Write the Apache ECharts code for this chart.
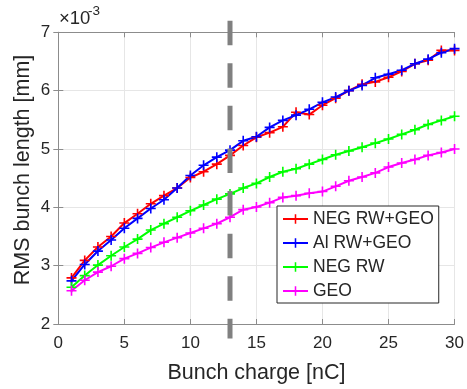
<!DOCTYPE html>
<html>
<head>
<meta charset="utf-8">
<script src="https://cdn.jsdelivr.net/npm/echarts@6/dist/echarts.min.js"></script>
<style>html,body{margin:0;padding:0;background:#fff;}#c{width:467px;height:389px;}</style>
</head>
<body>
<div id="c"></div>
<script>
var charge = [1,2,3,4,5,6,7,8,9,10,11,12,13,14,15,16,17,18,19,20,21,22,23,24,25,26,27,28,29,30];
var negRwGeo = [2.79,3.09,3.32,3.50,3.73,3.89,4.06,4.20,4.33,4.51,4.61,4.74,4.89,5.06,5.20,5.28,5.38,5.63,5.59,5.75,5.87,6.00,6.11,6.15,6.23,6.33,6.46,6.52,6.69,6.69];
var alRwGeo = [2.74,3.02,3.25,3.44,3.64,3.81,3.98,4.13,4.33,4.545,4.72,4.86,4.98,5.14,5.21,5.37,5.49,5.58,5.68,5.80,5.89,6.00,6.09,6.22,6.28,6.35,6.46,6.54,6.65,6.72];
var negRw = [2.63,2.83,3.01,3.17,3.32,3.455,3.61,3.72,3.83,3.94,4.04,4.14,4.23,4.33,4.41,4.52,4.61,4.66,4.74,4.82,4.90,4.965,5.03,5.10,5.17,5.25,5.33,5.42,5.49,5.56];
var geo = [2.57,2.75,2.89,2.99,3.12,3.21,3.31,3.40,3.48,3.56,3.64,3.72,3.83,3.96,4.005,4.08,4.17,4.20,4.24,4.27,4.36,4.455,4.52,4.59,4.69,4.76,4.82,4.89,4.94,5.00];
var seriesNames = ['NEG RW+GEO','Al RW+GEO','NEG RW','GEO'];
var seriesColors = ['#ff0000','#0000ff','#00ff00','#ff00ff'];
var cutCharge = 13;
var cutRange = [7.2, 1.75];

var FONT = '"Liberation Sans", Arial, Helvetica, sans-serif';
var TXT = '#262626';
var AX = '#8c8c8c';
var plus = 'path://M4.2,0H5.8V4.2H10V5.8H5.8V10H4.2V5.8H0V4.2H4.2Z';

function pairs(ys){ return charge.map(function(x,i){ return [x, ys[i]]; }); }
var allData = [negRwGeo, alRwGeo, negRw, geo];

var series = allData.map(function(d,i){
  return {
    name: seriesNames[i], type:'line', data: pairs(d),
    symbol: plus, symbolSize: 10, showSymbol: true,
    lineStyle:{color:seriesColors[i], width:2},
    itemStyle:{color:seriesColors[i]},
    emphasis:{disabled:true}, animation:false
  };
});
series.push({
  name:'cut', type:'line', data:[[cutCharge,cutRange[0]],[cutCharge,cutRange[1]]],
  clip:false, symbol:'none', silent:true, animation:false,
  lineStyle:{color:'#808080', width:5, type:[24.5,18.1]}, z:10
});

var chart = echarts.init(document.getElementById('c'), null, {renderer:'canvas'});
chart.setOption({
  animation:false,
  backgroundColor:'#fff',
  grid:{left:58.3, right:8.7, top:32.3, bottom:60.7, containLabel:false},
  xAxis:[{
    type:'value', min:0, max:30, interval:5, position:'bottom',
    axisLine:{show:true, lineStyle:{color:AX, width:1}},
    axisTick:{show:true, inside:true, length:5, lineStyle:{color:AX}},
    axisLabel:{color:TXT, fontSize:17, fontFamily:FONT, margin:11},
    splitLine:{show:true, lineStyle:{color:'#e6e6e6', width:1}},
    name:'Bunch charge [nC]', nameLocation:'middle', nameGap:38,
    nameTextStyle:{color:TXT, fontSize:21.5, fontFamily:FONT}
  },{
    type:'value', min:0, max:30, interval:5, position:'top',
    axisLine:{show:true, lineStyle:{color:AX, width:1}},
    axisTick:{show:true, inside:true, length:5, lineStyle:{color:AX}},
    axisLabel:{show:false}, splitLine:{show:false}
  }],
  yAxis:[{
    type:'value', min:2, max:7, interval:1, position:'left',
    axisLine:{show:true, lineStyle:{color:AX, width:1}},
    axisTick:{show:true, inside:true, length:5, lineStyle:{color:AX}},
    axisLabel:{color:TXT, fontSize:17, fontFamily:FONT, margin:8},
    splitLine:{show:true, lineStyle:{color:'#e6e6e6', width:1}}
  },{
    type:'value', min:2, max:7, interval:1, position:'right',
    axisLine:{show:true, lineStyle:{color:AX, width:1}},
    axisTick:{show:true, inside:true, length:5, lineStyle:{color:AX}},
    axisLabel:{show:false}, splitLine:{show:false}
  }],
  legend:{
    data: seriesNames, orient:'vertical', left:277, top:206,
    itemWidth:25, itemHeight:12, itemGap:6,
    padding:[4,5,3,5],
    backgroundColor:'#fff', borderColor:'#262626', borderWidth:1, borderRadius:0,
    textStyle:{color:TXT, fontSize:17.5, fontFamily:FONT},
    selectedMode:false
  },
  graphic:[
    {type:'text', left:59, top:9, style:{text:'×10', fill:TXT, fontSize:18.5, fontFamily:FONT}},
    {type:'text', left:88, top:4, style:{text:'-3', fill:TXT, fontSize:13.5, fontFamily:FONT}},
    {type:'text', x:23, y:170, rotation:Math.PI/2,
     style:{text:'RMS bunch length [mm]', fill:TXT, fontSize:21.5, fontFamily:FONT, align:'center', verticalAlign:'middle'}}
  ],
  series: series
});
</script>
</body>
</html>
